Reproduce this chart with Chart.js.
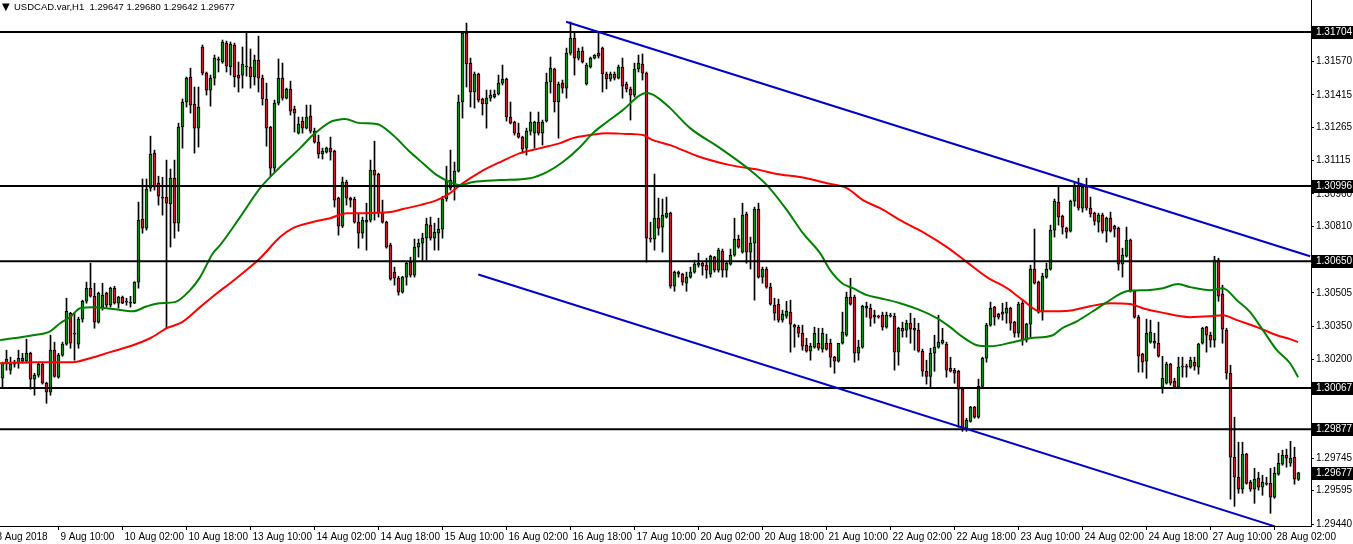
<!DOCTYPE html>
<html><head><meta charset="utf-8">
<script src="https://cdn.jsdelivr.net/npm/chart.js@4.4.0/dist/chart.umd.min.js"></script>
<style>html,body{margin:0;padding:0;background:#fff;overflow:hidden}canvas{display:block}</style>
</head><body>
<canvas id="c" width="1353" height="544" style="width:1353px;height:544px"></canvas>
<script>
const symbolTitle = "USDCAD.var,H1";

const opens = [
1.30112,1.30181,1.30149,1.30177,1.30181,1.30190,1.30190,1.30227,1.30108,1.30126,
1.30177,1.30089,1.30048,1.30241,1.30117,1.30218,1.30269,1.30411,1.30315,1.30269,
1.30384,1.30466,1.30526,1.30489,1.30370,1.30439,1.30503,1.30448,1.30526,1.30457,
1.30485,1.30462,1.30457,1.30457,1.30554,1.30844,1.30802,1.30986,1.31147,1.31009,
1.30945,1.30945,1.30913,1.31032,1.30825,1.31267,1.31382,1.31497,1.31373,1.31262,
1.31635,1.31515,1.31437,1.31492,1.31580,1.31566,1.31653,1.31543,1.31644,1.31506,
1.31506,1.31543,1.31543,1.31497,1.31575,1.31492,1.31396,1.31267,1.31078,1.31377,
1.31492,1.31400,1.31442,1.31350,1.31239,1.31294,1.31262,1.31317,1.31248,1.31198,
1.31143,1.31152,1.31170,1.31156,1.30940,1.30811,1.31014,1.30940,1.30936,1.30830,
1.30779,1.30830,1.30839,1.31069,1.31051,1.30871,1.30830,1.30724,1.30600,1.30572,
1.30508,1.30577,1.30646,1.30586,1.30715,1.30733,1.30756,1.30816,1.30756,1.30779,
1.30798,1.30936,1.30986,1.31000,1.31064,1.31382,1.31699,1.31561,1.31428,1.31511,
1.31396,1.31373,1.31400,1.31405,1.31419,1.31469,1.31488,1.31313,1.31290,1.31239,
1.31221,1.31170,1.31248,1.31239,1.31290,1.31239,1.31294,1.31474,1.31534,1.31382,
1.31469,1.31446,1.31607,1.31676,1.31584,1.31616,1.31465,1.31543,1.31584,1.31607,
1.31630,1.31511,1.31488,1.31511,1.31492,1.31543,1.31465,1.31442,1.31414,1.31534,
1.31557,1.31515,1.30756,1.30752,1.30848,1.30807,1.30853,1.30871,1.30535,1.30600,
1.30591,1.30549,1.30577,1.30600,1.30632,1.30641,1.30632,1.30591,1.30669,1.30609,
1.30696,1.30609,1.30637,1.30678,1.30752,1.30692,1.30867,1.30692,1.30733,1.30890,
1.30577,1.30614,1.30531,1.30448,1.30453,1.30379,1.30397,1.30416,1.30356,1.30347,
1.30319,1.30264,1.30236,1.30255,1.30273,1.30246,1.30273,1.30273,1.30209,1.30190,
1.30273,1.30310,1.30485,1.30485,1.30227,1.30255,1.30443,1.30434,1.30402,1.30397,
1.30402,1.30347,1.30402,1.30397,1.30232,1.30342,1.30333,1.30365,1.30342,1.30333,
1.30236,1.30144,1.30121,1.30227,1.30255,1.30273,1.30269,1.30158,1.30149,1.30144,
1.30062,1.29882,1.29914,1.29979,1.29933,1.30075,1.30204,1.30356,1.30439,1.30407,
1.30407,1.30411,1.30434,1.30370,1.30319,1.30457,1.30287,1.30361,1.30614,1.30554,
1.30416,1.30577,1.30614,1.30793,1.30922,1.30857,1.30802,1.30788,1.30926,1.30995,
1.30894,1.30991,1.30894,1.30871,1.30830,1.30862,1.30788,1.30848,1.30811,1.30802,
1.30637,1.30673,1.30747,1.30512,1.30393,1.30223,1.30190,1.30278,1.30282,1.30273,
1.30071,1.30089,1.30177,1.30098,1.30071,1.30163,1.30168,1.30163,1.30186,1.30163,
1.30273,1.30347,1.30310,1.30287,1.30655,1.30499,1.30333,1.30135,1.29749,1.29657,
1.29602,1.29763,1.29634,1.29602,1.29652,1.29611,1.29629,1.29629,1.29565,1.29671,
1.29717,1.29758,1.29721,1.29749,1.29647];

const highs = [
1.30186,1.30241,1.30209,1.30195,1.30241,1.30227,1.30292,1.30232,1.30135,1.30186,
1.30186,1.30094,1.30310,1.30278,1.30227,1.30278,1.30480,1.30415,1.30411,1.30393,
1.30471,1.30554,1.30641,1.30549,1.30508,1.30549,1.30508,1.30531,1.30535,1.30489,
1.30490,1.30480,1.30489,1.30556,1.30922,1.31028,1.31028,1.31225,1.31161,1.31041,
1.31036,1.31115,1.31074,1.31115,1.31285,1.31396,1.31497,1.31538,1.31451,1.31451,
1.31644,1.31520,1.31506,1.31598,1.31589,1.31667,1.31662,1.31658,1.31653,1.31566,
1.31635,1.31704,1.31626,1.31598,1.31685,1.31506,1.31469,1.31270,1.31391,1.31580,
1.31561,1.31446,1.31478,1.31363,1.31313,1.31313,1.31368,1.31368,1.31262,1.31230,
1.31170,1.31175,1.31221,1.31161,1.30945,1.31037,1.31023,1.30945,1.30945,1.30871,
1.30853,1.30917,1.31115,1.31202,1.31055,1.30931,1.30834,1.30733,1.30623,1.30581,
1.30581,1.30646,1.30669,1.30752,1.30752,1.30779,1.30848,1.30853,1.30825,1.30848,
1.30949,1.31087,1.31161,1.31106,1.31414,1.31704,1.31745,1.31584,1.31520,1.31515,
1.31400,1.31437,1.31437,1.31437,1.31506,1.31552,1.31492,1.31382,1.31294,1.31285,
1.31225,1.31262,1.31336,1.31294,1.31336,1.31299,1.31515,1.31589,1.31538,1.31474,
1.31483,1.31630,1.31750,1.31699,1.31630,1.31635,1.31561,1.31589,1.31600,1.31699,
1.31635,1.31520,1.31520,1.31520,1.31552,1.31584,1.31474,1.31451,1.31561,1.31598,
1.31603,1.31520,1.30830,1.31051,1.30940,1.30936,1.30945,1.30876,1.30605,1.30605,
1.30595,1.30600,1.30623,1.30655,1.30687,1.30646,1.30664,1.30678,1.30673,1.30710,
1.30706,1.30646,1.30706,1.30848,1.30770,1.30917,1.30876,1.30761,1.30899,1.30917,
1.30623,1.30623,1.30549,1.30480,1.30476,1.30425,1.30466,1.30471,1.30361,1.30356,
1.30356,1.30296,1.30273,1.30347,1.30342,1.30342,1.30315,1.30292,1.30213,1.30273,
1.30416,1.30508,1.30572,1.30494,1.30287,1.30448,1.30462,1.30453,1.30425,1.30402,
1.30416,1.30416,1.30411,1.30411,1.30347,1.30370,1.30379,1.30411,1.30388,1.30365,
1.30246,1.30195,1.30250,1.30310,1.30402,1.30342,1.30278,1.30209,1.30158,1.30149,
1.30071,1.29928,1.29983,1.29983,1.30108,1.30209,1.30365,1.30462,1.30443,1.30411,
1.30457,1.30462,1.30439,1.30374,1.30462,1.30471,1.30365,1.30632,1.30798,1.30559,
1.30595,1.30641,1.30816,1.30936,1.30991,1.30862,1.30807,1.30931,1.31009,1.31032,
1.30995,1.31032,1.30945,1.30876,1.30871,1.30871,1.30853,1.30876,1.30816,1.30807,
1.30710,1.30807,1.30752,1.30517,1.30402,1.30227,1.30384,1.30379,1.30319,1.30370,
1.30213,1.30186,1.30181,1.30112,1.30209,1.30209,1.30177,1.30209,1.30209,1.30273,
1.30347,1.30351,1.30324,1.30673,1.30664,1.30540,1.30342,1.30172,1.29933,1.29818,
1.29818,1.29767,1.29643,1.29698,1.29680,1.29666,1.29657,1.29698,1.29703,1.29767,
1.29781,1.29786,1.29822,1.29795,1.29680];

const lows = [
1.30071,1.30149,1.30131,1.30163,1.30158,1.30181,1.30181,1.30062,1.30034,1.30117,
1.30085,1.29997,1.30034,1.30117,1.30112,1.30213,1.30264,1.30250,1.30195,1.30250,
1.30370,1.30457,1.30485,1.30342,1.30365,1.30425,1.30439,1.30439,1.30453,1.30434,
1.30455,1.30448,1.30439,1.30455,1.30526,1.30779,1.30793,1.30972,1.30977,1.30908,
1.30862,1.30342,1.30715,1.30756,1.30788,1.31170,1.31359,1.31331,1.31147,1.31175,
1.31506,1.31414,1.31363,1.31460,1.31520,1.31560,1.31520,1.31506,1.31451,1.31428,
1.31446,1.31501,1.31446,1.31460,1.31428,1.31368,1.31179,1.31041,1.31060,1.31368,
1.31391,1.31396,1.31322,1.31244,1.31235,1.31239,1.31258,1.31239,1.31193,1.31124,
1.31120,1.31147,1.31115,1.30899,1.30770,1.30805,1.30908,1.30899,1.30825,1.30710,
1.30756,1.30701,1.30830,1.30839,1.30853,1.30825,1.30710,1.30563,1.30540,1.30494,
1.30503,1.30540,1.30577,1.30577,1.30669,1.30655,1.30655,1.30747,1.30701,1.30701,
1.30756,1.30926,1.30977,1.30931,1.31060,1.31308,1.31451,1.31359,1.31354,1.31382,
1.31322,1.31262,1.31386,1.31400,1.31414,1.31460,1.31294,1.31281,1.31230,1.31216,
1.31147,1.31138,1.31230,1.31170,1.31230,1.31184,1.31290,1.31423,1.31336,1.31216,
1.31423,1.31400,1.31598,1.31506,1.31575,1.31561,1.31460,1.31538,1.31580,1.31584,
1.31428,1.31442,1.31478,1.31483,1.31488,1.31400,1.31428,1.31299,1.31405,1.31520,
1.31483,1.30646,1.30738,1.30701,1.30770,1.30692,1.30848,1.30526,1.30512,1.30577,
1.30540,1.30512,1.30572,1.30595,1.30623,1.30586,1.30572,1.30577,1.30600,1.30600,
1.30577,1.30577,1.30632,1.30673,1.30710,1.30687,1.30641,1.30614,1.30471,1.30572,
1.30549,1.30526,1.30448,1.30379,1.30370,1.30370,1.30388,1.30232,1.30255,1.30301,
1.30241,1.30232,1.30195,1.30250,1.30241,1.30232,1.30241,1.30163,1.30135,1.30186,
1.30269,1.30305,1.30448,1.30186,1.30195,1.30250,1.30393,1.30351,1.30365,1.30388,
1.30333,1.30342,1.30393,1.30149,1.30172,1.30301,1.30301,1.30273,1.30241,1.30232,
1.30121,1.30085,1.30071,1.30144,1.30250,1.30269,1.30117,1.30140,1.30089,1.29887,
1.29868,1.29868,1.29910,1.29928,1.29928,1.30071,1.30186,1.30351,1.30356,1.30384,
1.30379,1.30365,1.30333,1.30301,1.30301,1.30264,1.30278,1.30301,1.30545,1.30411,
1.30379,1.30572,1.30609,1.30761,1.30816,1.30775,1.30756,1.30784,1.30903,1.30885,
1.30876,1.30885,1.30853,1.30816,1.30784,1.30779,1.30738,1.30784,1.30761,1.30609,
1.30577,1.30669,1.30508,1.30388,1.30140,1.30140,1.30112,1.30273,1.30250,1.30209,
1.30043,1.30085,1.30080,1.30066,1.30066,1.30117,1.30117,1.30158,1.30149,1.30131,
1.30269,1.30232,1.30255,1.30255,1.30466,1.30273,1.30108,1.29556,1.29523,1.29583,
1.29583,1.29625,1.29592,1.29537,1.29597,1.29574,1.29620,1.29491,1.29560,1.29666,
1.29712,1.29703,1.29707,1.29625,1.29642];

const closes = [
1.30181,1.30200,1.30177,1.30181,1.30204,1.30204,1.30227,1.30108,1.30126,1.30177,
1.30089,1.30048,1.30241,1.30121,1.30218,1.30269,1.30420,1.30273,1.30319,1.30384,
1.30466,1.30526,1.30489,1.30370,1.30503,1.30494,1.30448,1.30526,1.30457,1.30485,
1.30457,1.30466,1.30460,1.30554,1.30839,1.30802,1.30982,1.31143,1.30995,1.30949,
1.30940,1.30917,1.31032,1.30825,1.31267,1.31382,1.31492,1.31368,1.31262,1.31359,
1.31515,1.31437,1.31492,1.31584,1.31575,1.31658,1.31547,1.31649,1.31497,1.31492,
1.31557,1.31547,1.31497,1.31575,1.31492,1.31396,1.31262,1.31078,1.31377,1.31492,
1.31400,1.31442,1.31340,1.31331,1.31281,1.31262,1.31313,1.31248,1.31198,1.31143,
1.31156,1.31170,1.31152,1.30931,1.30811,1.31014,1.30940,1.30931,1.30830,1.30779,
1.30839,1.30839,1.31069,1.31046,1.30871,1.30830,1.30715,1.30568,1.30572,1.30508,
1.30577,1.30641,1.30586,1.30715,1.30733,1.30756,1.30821,1.30756,1.30784,1.30798,
1.30936,1.31018,1.31023,1.31064,1.31382,1.31699,1.31557,1.31428,1.31511,1.31391,
1.31373,1.31400,1.31414,1.31419,1.31469,1.31488,1.31313,1.31285,1.31239,1.31221,
1.31166,1.31248,1.31290,1.31290,1.31239,1.31290,1.31474,1.31538,1.31382,1.31465,
1.31446,1.31607,1.31676,1.31584,1.31616,1.31566,1.31552,1.31584,1.31598,1.31593,
1.31511,1.31488,1.31511,1.31492,1.31543,1.31455,1.31442,1.31414,1.31534,1.31561,
1.31515,1.30756,1.30752,1.30848,1.30802,1.30862,1.30871,1.30535,1.30600,1.30591,
1.30554,1.30577,1.30600,1.30637,1.30641,1.30627,1.30609,1.30673,1.30609,1.30701,
1.30609,1.30641,1.30678,1.30752,1.30715,1.30862,1.30692,1.30733,1.30890,1.30577,
1.30614,1.30531,1.30453,1.30411,1.30379,1.30407,1.30420,1.30361,1.30347,1.30319,
1.30259,1.30236,1.30259,1.30319,1.30250,1.30319,1.30246,1.30209,1.30190,1.30273,
1.30324,1.30485,1.30453,1.30227,1.30255,1.30443,1.30434,1.30388,1.30393,1.30393,
1.30347,1.30402,1.30397,1.30232,1.30342,1.30328,1.30365,1.30338,1.30333,1.30236,
1.30144,1.30121,1.30227,1.30255,1.30278,1.30287,1.30149,1.30144,1.30135,1.30062,
1.29887,1.29919,1.29979,1.29933,1.30075,1.30204,1.30356,1.30434,1.30393,1.30393,
1.30416,1.30434,1.30365,1.30319,1.30453,1.30287,1.30361,1.30614,1.30549,1.30416,
1.30581,1.30614,1.30793,1.30926,1.30853,1.30807,1.30784,1.30926,1.30995,1.30894,
1.30991,1.30894,1.30867,1.30834,1.30862,1.30788,1.30848,1.30788,1.30798,1.30637,
1.30678,1.30747,1.30517,1.30393,1.30213,1.30186,1.30319,1.30324,1.30273,1.30213,
1.30112,1.30177,1.30089,1.30071,1.30163,1.30168,1.30163,1.30195,1.30168,1.30269,
1.30342,1.30310,1.30287,1.30655,1.30489,1.30338,1.30135,1.29749,1.29657,1.29602,
1.29763,1.29629,1.29602,1.29648,1.29611,1.29634,1.29625,1.29565,1.29675,1.29721,
1.29758,1.29744,1.29744,1.29648,1.29677];

// Moving averages (bar index, price)
const greenMaIdx = [-0.6,7.6,11.9,14.4,16.9,19.4,22.6,27.6,32.6,36.1,39.4,43.1,46.9,49.4,52.6,54.4,59.4,64.4,69.4,74.4,77.6,81.9,83.6,85.6,89.4,93.6,97.6,101.9,105.1,108.6,111.9,114.4,117.6,124.4,131.9,136.1,140.1,144.4,147.6,151.1,155.1,159.4,161.1,163.6,166.9,171.9,179.4,186.9,191.1,196.1,200.1,204.4,206.9,209.9,212.6,216.1,219.4,224.4,229.4,233.6,236.9,240.1,243.6,246.9,252.6,256.9,262.6,264.9,268.6,272.6,276.1,281.1,286.1,290.1,293.9,296.9,301.9,305.1,308.6,311.9,315.1,318.6,321.9,323.9];
const greenMaVal = [1.30287,1.30310,1.30328,1.30365,1.30393,1.30434,1.30439,1.30430,1.30420,1.30443,1.30457,1.30462,1.30517,1.30577,1.30687,1.30724,1.30853,1.30986,1.31083,1.31170,1.31230,1.31290,1.31299,1.31304,1.31285,1.31281,1.31230,1.31152,1.31101,1.31046,1.31014,1.31000,1.31014,1.31023,1.31032,1.31060,1.31106,1.31175,1.31239,1.31290,1.31345,1.31414,1.31423,1.31405,1.31354,1.31262,1.31170,1.31069,1.31000,1.30885,1.30779,1.30687,1.30609,1.30549,1.30526,1.30494,1.30480,1.30457,1.30425,1.30388,1.30347,1.30301,1.30264,1.30259,1.30278,1.30296,1.30310,1.30342,1.30374,1.30420,1.30462,1.30512,1.30517,1.30526,1.30545,1.30531,1.30517,1.30526,1.30471,1.30416,1.30333,1.30241,1.30181,1.30117];
const redMaIdx = [-0.6,7.6,17.6,21.9,26.9,32.6,36.9,41.1,44.9,49.4,53.6,56.9,59.4,64.4,69.4,72.6,77.6,81.9,86.1,90.1,96.9,100.1,104.4,108.6,111.9,114.4,119.4,124.4,129.4,134.4,139.4,142.6,146.9,151.1,156.1,160.1,162.6,166.9,174.4,181.9,189.4,193.6,199.4,206.1,211.1,215.1,219.4,224.4,230.1,236.1,241.1,246.1,251.1,255.1,259.4,264.4,267.6,271.9,276.9,281.9,285.1,289.4,296.9,301.9,305.1,308.6,313.6,318.6,321.9,323.9];
const redMaVal = [1.30181,1.30186,1.30186,1.30204,1.30232,1.30264,1.30296,1.30342,1.30370,1.30439,1.30503,1.30549,1.30586,1.30664,1.30761,1.30802,1.30830,1.30848,1.30871,1.30871,1.30876,1.30890,1.30908,1.30931,1.30963,1.31000,1.31060,1.31106,1.31147,1.31170,1.31193,1.31216,1.31230,1.31239,1.31235,1.31230,1.31207,1.31184,1.31129,1.31092,1.31069,1.31051,1.31037,1.31009,1.30986,1.30931,1.30894,1.30839,1.30784,1.30715,1.30646,1.30577,1.30526,1.30471,1.30420,1.30420,1.30425,1.30443,1.30457,1.30453,1.30434,1.30416,1.30393,1.30397,1.30402,1.30379,1.30347,1.30310,1.30292,1.30278];

// Trend lines (bar index, price) and horizontal levels
const trendUpperIdx = [140.9, 326.9];
const trendUpperVal = [1.31751, 1.30673];
const trendLowerIdx = [118.95, 318.1];
const trendLowerVal = [1.30589, 1.29431];
const levels = [1.31704, 1.30996, 1.30650, 1.30067, 1.29877];

// Axes
const xTickIdx = [-2,14,30,46,62,78,94,110,126,142,158,174,190,206,222,238,254,270,286,302,318];
const xTickLabels = ["8 Aug 2018","9 Aug 10:00","10 Aug 02:00","10 Aug 18:00","13 Aug 10:00","14 Aug 02:00","14 Aug 18:00","15 Aug 10:00","16 Aug 02:00","16 Aug 18:00","17 Aug 10:00","20 Aug 02:00","20 Aug 18:00","21 Aug 10:00","22 Aug 02:00","22 Aug 18:00","23 Aug 10:00","24 Aug 02:00","24 Aug 18:00","27 Aug 10:00","28 Aug 02:00"];
const yTickVals = [1.31570,1.31415,1.31265,1.31115,1.30960,1.30810,1.30655,1.30505,1.30350,1.30200,1.30050,1.29745,1.29595,1.29440];
const yMin = 1.294327, yMax = 1.318511;

const FONT = '"Liberation Sans", Arial, sans-serif';
const last = closes.length - 1;

const wickData = opens.map((o, i) => ({x: i, y: [lows[i], highs[i]]}));
const bodyData = opens.map((o, i) => ({x: i, y: [o, closes[i]]}));
const bodyColors = opens.map((o, i) => closes[i] >= o ? '#0f8a0f' : '#c11d24');

const lineDs = (xs, vs, color, order, extra) => Object.assign({
  type: 'line',
  data: xs.map((x, k) => ({x: x, y: vs[k]})),
  borderColor: color, borderWidth: 2, pointRadius: 0, fill: false, order: order
}, extra || {});

const datasets = [
  {type: 'bar', data: wickData, backgroundColor: '#000', borderWidth: 0, barThickness: 1, grouped: false, order: 6},
  {type: 'bar', data: bodyData, backgroundColor: bodyColors, borderColor: '#000', borderWidth: 1,
   borderSkipped: false, barThickness: 3, minBarLength: 1, grouped: false, order: 5},
  lineDs(greenMaIdx, greenMaVal, '#008000', 3, {cubicInterpolationMode: 'monotone'}),
  lineDs(redMaIdx, redMaVal, '#ff0000', 3, {cubicInterpolationMode: 'monotone'}),
  lineDs(trendUpperIdx, trendUpperVal, '#0000c8', 1),
  lineDs(trendLowerIdx, trendLowerVal, '#0000c8', 1)
];
levels.forEach(v => datasets.push(lineDs([-1, 330], [v, v], '#000', 2)));

const decorPlugin = {
  id: 'decor',
  beforeDraw(chart) {
    const c = chart.ctx;
    c.save(); c.fillStyle = '#fff'; c.fillRect(0, 0, chart.width, chart.height); c.restore();
  },
  afterDraw(chart) {
    const c = chart.ctx, ys = chart.scales.y, area = chart.chartArea;
    c.save();
    c.font = '10px ' + FONT;
    c.textBaseline = 'middle';
    c.textAlign = 'left';
    levels.concat([closes[last]]).forEach(v => {
      const py = Math.round(ys.getPixelForValue(v));
      c.fillStyle = '#000';
      c.fillRect(area.right + 1, py - 6, chart.width - area.right - 1, 13);
      c.fillStyle = '#fff';
      c.fillText(v.toFixed(5), area.right + 5, py + 0.5);
    });
    c.fillStyle = '#000';
    c.font = '10px "DejaVu Sans", sans-serif';
    c.fillText('\u25BC', 2, 7);
    c.font = '9.5px ' + FONT;
    c.fillText(symbolTitle + '  ' + [opens[last], highs[last], lows[last], closes[last]].map(v => v.toFixed(5)).join(' '), 14, 7);
    c.restore();
  }
};

new Chart(document.getElementById('c'), {
  type: 'bar',
  data: {datasets: datasets},
  plugins: [decorPlugin],
  options: {
    responsive: false, animation: false, devicePixelRatio: 1,
    events: [],
    layout: {padding: 0},
    plugins: {legend: {display: false}, tooltip: {enabled: false}, title: {display: false}},
    scales: {
      x: {
        type: 'linear', min: -0.625, max: 327.125, offset: false,
        grid: {display: true, drawOnChartArea: false, drawTicks: true, tickLength: 4, color: '#000', offset: false},
        border: {display: true, color: '#000', width: 1},
        ticks: {autoSkip: false, maxRotation: 0, minRotation: 0, align: 'start', labelOffset: 2, padding: 1, color: '#000',
                font: {family: FONT, size: 10}, callback: (v, i) => xTickLabels[i]},
        afterBuildTicks: s => { s.ticks = xTickIdx.map(v => ({value: v})); },
        afterFit: s => { s.height = 18; s.paddingLeft = 0; s.paddingRight = 0; }
      },
      y: {
        type: 'linear', position: 'right', min: yMin, max: yMax,
        grid: {display: true, drawOnChartArea: false, drawTicks: true, tickLength: 3, color: '#000'},
        border: {display: true, color: '#000', width: 1},
        ticks: {padding: 2, color: '#000', font: {family: FONT, size: 10}, callback: v => Number(v).toFixed(5)},
        afterBuildTicks: s => { s.ticks = yTickVals.map(v => ({value: v})); },
        afterFit: s => { s.width = 42; s.paddingTop = 0; s.paddingBottom = 0; }
      }
    }
  }
}); 
</script>
</body></html>
